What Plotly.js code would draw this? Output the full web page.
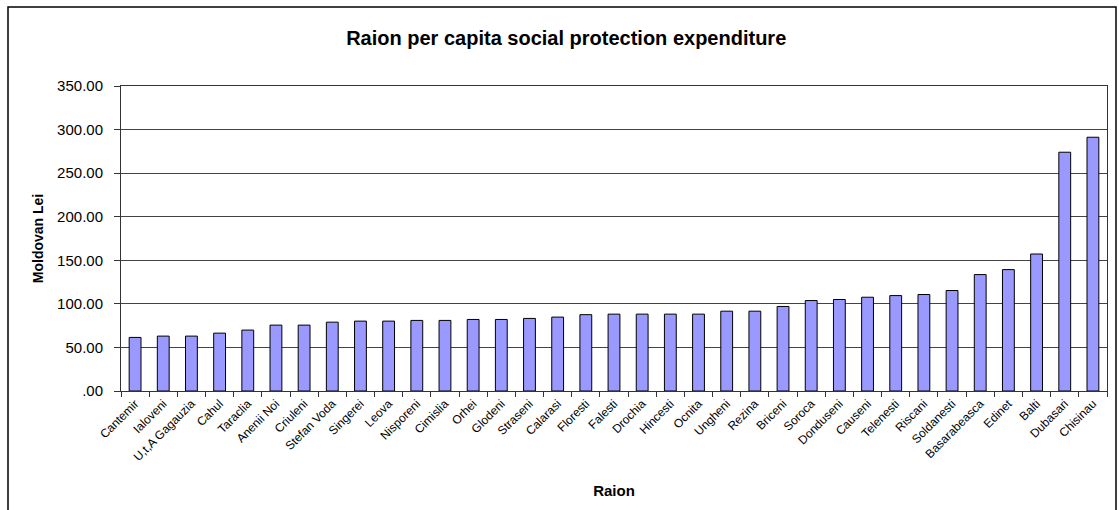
<!DOCTYPE html>
<html>
<head>
<meta charset="utf-8">
<script src="https://cdn.plot.ly/plotly-3.0.1.min.js"></script>
<style>
html,body{margin:0;padding:0;background:#fff;}
#chart{width:1119px;height:510px;}
</style>
</head>
<body>
<div id="chart"></div>
<script>
const raions = ["Cantemir","Ialoveni","U,t,A Gagauzia","Cahul","Taraclia","Anenii Noi","Criuleni","Stefan Voda","Singerei","Leova","Nisporeni","Cimislia","Orhei","Glodeni","Straseni","Calarasi","Floresti","Falesti","Drochia","Hincesti","Ocnita","Ungheni","Rezina","Briceni","Soroca","Donduseni","Causeni","Telenesti","Riscani","Soldanesti","Basarabeasca","Edinet","Balti","Dubasari","Chisinau"];
const expenditure = [61.5,63.0,63.0,66.4,69.9,75.6,75.6,79.0,80.2,80.2,81.0,81.0,82.1,82.1,83.3,84.8,87.6,88.2,88.2,88.2,88.2,91.6,91.6,97.0,103.8,105.0,107.6,109.5,110.7,115.3,133.6,139.3,157.2,274.0,291.2];
const yTickVals = [0,50,100,150,200,250,300,350];
const yTickText = [".00","50.00","100.00","150.00","200.00","250.00","300.00","350.00"];

const L = 121, R = 12, T = 86, B = 119, W = 1119, H = 510;
const pw = W - L - R, ph = H - T - B;
function px2paperX(px){ return (px - L) / pw; }
function px2paperY(py){ return (H - B - py) / ph; }

const trace = {
  type: "bar",
  x: raions,
  y: expenditure,
  width: 0.42,
  marker: {color: "#9999FF", line: {color: "#000000", width: 1}},
  hoverinfo: "x+y"
};

const layout = {
  width: W, height: H,
  margin: {l: L, r: R, t: T, b: B, pad: 0},
  paper_bgcolor: "#ffffff",
  plot_bgcolor: "#ffffff",
  showlegend: false,
  font: {family: "Arial, 'Liberation Sans', sans-serif", color: "#000"},
  title: {
    text: "<b>Raion per capita social protection expenditure</b>",
    font: {size: 20, family: "Arial, 'Liberation Sans', sans-serif", color: "#000"},
    x: 0.506, xref: "container", xanchor: "center",
    y: 1 - 38/510, yref: "container", yanchor: "middle"
  },
  xaxis: {
    type: "category",
    tickangle: -45,
    tickfont: {size: 12, color: "#000"},
    ticks: "outside", ticklen: 5, tickcolor: "#333",
    tickson: "boundaries",
    showline: true, linecolor: "#333", linewidth: 1, mirror: true,
    showgrid: false,
    title: {text: "<b>Raion</b>", font: {size: 15, color: "#000"}, standoff: 22},
    automargin: false
  },
  yaxis: {
    range: [0, 350],
    tickvals: yTickVals,
    ticktext: yTickText,
    tickfont: {size: 15, color: "#000"},
    ticks: "outside", ticklen: 6, tickcolor: "#333",
    ticklabelstandoff: 8,
    showline: true, linecolor: "#333", linewidth: 1, mirror: true,
    showgrid: true, gridcolor: "#444", gridwidth: 1,
    zeroline: false,
    title: {text: "<b>Moldovan Lei</b>", font: {size: 14, color: "#000"}, standoff: 10},
    automargin: false
  },
  shapes: [{
    type: "rect", xref: "paper", yref: "paper",
    x0: px2paperX(8), x1: px2paperX(1116),
    y0: px2paperY(530), y1: px2paperY(7),
    line: {color: "#000", width: 1.5}, fillcolor: "rgba(0,0,0,0)", layer: "above"
  }]
};

Plotly.newPlot("chart", [trace], layout, {displayModeBar: false, staticPlot: true});
</script>
</body>
</html>
